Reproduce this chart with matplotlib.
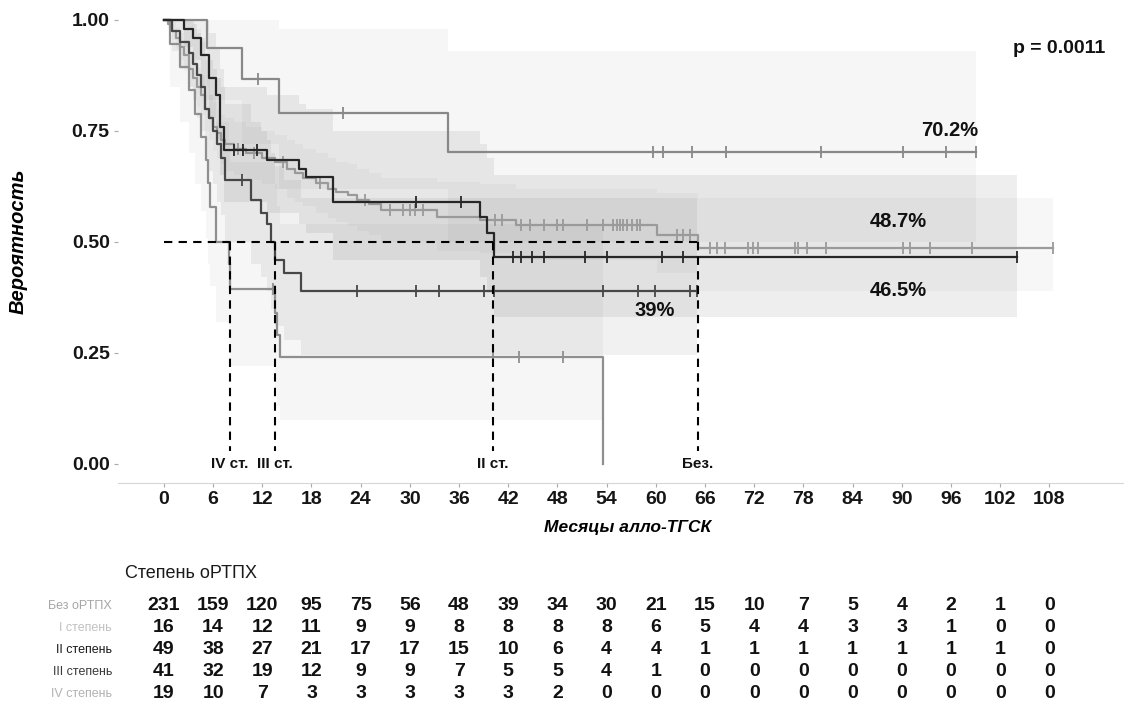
import numpy as np
import matplotlib
matplotlib.use('Agg')
import matplotlib.pyplot as plt
from matplotlib.transforms import blended_transform_factory

plt.rcParams['font.family'] = ['Liberation Sans', 'DejaVu Sans']

# Kaplan-Meier steps (months, probability)
bez_t = [0, 0.5, 1, 1.5, 2, 2.5, 3, 3.5, 4, 4.5, 5, 5.5, 6, 6.5, 7, 7.5, 8.5, 10, 12, 13.5,
         15, 16, 17, 18.5, 20, 21, 22.5, 23.5, 25, 26.5, 33.3, 38.6, 43, 60.1, 65.1]
bez_s = [1.0, 0.99, 0.975, 0.96, 0.94, 0.92, 0.89, 0.87, 0.85, 0.83, 0.80, 0.78, 0.76, 0.745, 0.73,
         0.72, 0.71, 0.70, 0.69, 0.68, 0.665, 0.655, 0.645, 0.633, 0.62, 0.613, 0.605, 0.595, 0.585,
         0.572, 0.556, 0.55, 0.538, 0.516, 0.487]
bez_lo = [1.0, 0.98, 0.955, 0.935, 0.91, 0.885, 0.85, 0.83, 0.805, 0.785, 0.75, 0.73, 0.705, 0.69,
          0.675, 0.66, 0.65, 0.64, 0.63, 0.62, 0.60, 0.59, 0.58, 0.565, 0.555, 0.545, 0.535, 0.525,
          0.515, 0.50, 0.48, 0.475, 0.46, 0.43, 0.39]
bez_hi = [1.0, 1.0, 0.995, 0.985, 0.97, 0.955, 0.93, 0.91, 0.895, 0.875, 0.85, 0.83, 0.815, 0.80,
          0.785, 0.78, 0.77, 0.76, 0.75, 0.74, 0.73, 0.72, 0.71, 0.70, 0.69, 0.68, 0.675, 0.665,
          0.655, 0.645, 0.635, 0.63, 0.62, 0.61, 0.60]
bez_end = 108.5
bez_cens = [9.0, 11.0, 14.5, 19.0, 24.5, 27.6, 29.2, 30.0, 30.6, 31.6, 40.4, 41.2, 43.5, 44.6, 46.3,
            48.0, 48.7, 51.6, 53.6, 54.8, 55.3, 55.6, 56.0, 56.5, 57.1, 57.7, 58.1, 62.6, 63.3,
            64.2, 66.6, 67.5, 68.4, 71.2, 71.8, 72.4, 77.0, 77.3, 78.4, 80.8, 90.1, 91.0, 93.4,
            98.5, 108.5]

I_t = [0, 5.3, 9.5, 14.0, 34.7]
I_s = [1.0, 0.938, 0.866, 0.79, 0.702]
I_lo = [1.0, 0.82, 0.72, 0.62, 0.50]
I_hi = [1.0, 1.0, 1.0, 0.98, 0.93]
I_end = 99.1
I_cens = [11.5, 21.9, 59.7, 60.9, 64.4, 68.6, 80.1, 90.2, 95.4, 99.1]

II_t = [0, 2.5, 3.5, 4.5, 5.5, 6.3, 6.8, 7.3, 12.6, 16.5, 17.3, 20.6, 38.6, 39.4, 40.2]
II_s = [1.0, 0.98, 0.96, 0.92, 0.87, 0.83, 0.76, 0.707, 0.685, 0.665, 0.647, 0.59, 0.556, 0.52, 0.465]
II_lo = [1.0, 0.94, 0.91, 0.85, 0.78, 0.73, 0.65, 0.59, 0.565, 0.54, 0.52, 0.46, 0.42, 0.385, 0.33]
II_hi = [1.0, 1.0, 1.0, 1.0, 0.97, 0.94, 0.89, 0.85, 0.83, 0.81, 0.80, 0.75, 0.72, 0.69, 0.65]
II_end = 104.1
II_cens = [8.5, 9.7, 11.4, 30.7, 36.2, 42.6, 43.5, 44.9, 46.3, 51.4, 54.1, 60.8, 63.3, 104.1]

III_t = [0, 1, 2, 3, 3.5, 4, 4.5, 5, 5.5, 6, 6.5, 7, 7.5, 10.6, 11.8, 12.6, 13.1, 13.6, 14.6, 16.7]
III_s = [1.0, 0.975, 0.95, 0.925, 0.90, 0.875, 0.85, 0.80, 0.78, 0.75, 0.72, 0.69, 0.64, 0.595,
         0.565, 0.54, 0.50, 0.46, 0.43, 0.39]
III_lo = [1.0, 0.93, 0.89, 0.85, 0.82, 0.78, 0.75, 0.69, 0.66, 0.63, 0.59, 0.56, 0.50, 0.45, 0.42,
          0.39, 0.35, 0.31, 0.28, 0.245]
III_hi = [1.0, 1.0, 1.0, 1.0, 0.99, 0.97, 0.96, 0.92, 0.91, 0.89, 0.87, 0.85, 0.81, 0.77, 0.75,
          0.73, 0.70, 0.67, 0.64, 0.60]
III_end = 65.0
III_cens = [9.5, 23.6, 30.7, 33.5, 39.0, 40.2, 53.6, 57.8, 59.9, 64.2, 65.0]

IV_t = [0, 0.8, 2, 3, 3.8, 4.5, 5.1, 5.4, 5.6, 6.4, 7.9, 8.0, 8.1, 13.6, 13.8, 14.2, 53.6]
IV_s = [1.0, 0.947, 0.895, 0.842, 0.789, 0.737, 0.684, 0.632, 0.579, 0.50, 0.45, 0.42, 0.395,
        0.34, 0.29, 0.24, 0.0]
IV_lo = [1.0, 0.85, 0.77, 0.70, 0.63, 0.57, 0.51, 0.45, 0.40, 0.32, 0.27, 0.24, 0.22, 0.17, 0.13,
         0.10, 0.0]
IV_hi = [1.0, 1.0, 1.0, 1.0, 0.98, 0.95, 0.91, 0.87, 0.83, 0.77, 0.73, 0.70, 0.68, 0.63, 0.58,
         0.54, 0.0]
IV_end = 53.6
IV_cens = [13.3, 40.1, 43.3, 48.7]

# number at risk table
risk_times = list(range(0, 109, 6))
risk_names = ['Без оРТПХ', 'I степень', 'II степень', 'III степень', 'IV степень']
risk_bez = [231, 159, 120, 95, 75, 56, 48, 39, 34, 30, 21, 15, 10, 7, 5, 4, 2, 1, 0]
risk_I = [16, 14, 12, 11, 9, 9, 8, 8, 8, 8, 6, 5, 4, 4, 3, 3, 1, 0, 0]
risk_II = [49, 38, 27, 21, 17, 17, 15, 10, 6, 4, 4, 1, 1, 1, 1, 1, 1, 1, 0]
risk_III = [41, 32, 19, 12, 9, 9, 7, 5, 5, 4, 1, 0, 0, 0, 0, 0, 0, 0, 0]
risk_IV = [19, 10, 7, 3, 3, 3, 3, 3, 2, 0, 0, 0, 0, 0, 0, 0, 0, 0, 0]

# median survival markers
med_times = [8.0, 13.5, 40.1, 65.1]
med_labels = ['IV ст.', 'III ст.', 'II ст.', 'Без.']

end_labels = ['70.2%', '48.7%', '46.5%', '39%']
end_pos = [(95.8, 0.752), (89.6, 0.545), (89.6, 0.39), (59.9, 0.345)]

groups = [
    (bez_t, bez_s, bez_lo, bez_hi, bez_end, bez_cens, '#9a9a9a'),
    (I_t, I_s, I_lo, I_hi, I_end, I_cens, '#888888'),
    (IV_t, IV_s, IV_lo, IV_hi, IV_end, IV_cens, '#8f8f8f'),
    (III_t, III_s, III_lo, III_hi, III_end, III_cens, '#474747'),
    (II_t, II_s, II_lo, II_hi, II_end, II_cens, '#262626'),
]
label_cols = ['#a6a6a6', '#c2c2c2', '#1a1a1a', '#3a3a3a', '#b2b2b2']

fig = plt.figure(figsize=(11.24, 7.13), dpi=100)
ax = fig.add_axes([118 / 1124, 1 - 483 / 713, 1 - 118 / 1124, 483 / 713])
ax.set_xlim(-5.6, 117.1)
ax.set_ylim(-0.043, 1.045)

for t, s, lo, hi, end, cens, col in groups:
    tx = list(t) + [end]
    ax.fill_between(tx, list(lo) + [lo[-1]], list(hi) + [hi[-1]], step='post',
                    color=col, alpha=0.075, lw=0)
for t, s, lo, hi, end, cens, col in groups:
    tx = list(t) + [end]
    sx = list(s) + [s[-1]]
    ax.step(tx, sx, where='post', color=col, lw=1.6)
    idx = np.searchsorted(t, cens, side='right') - 1
    cy = np.array(s)[idx]
    ax.plot(cens, cy, ls='none', marker='|', ms=8, mew=1.3, color=col)

# median lines
ax.plot([0, med_times[-1]], [0.5, 0.5], color='black', lw=1.5, dashes=(4, 3))
for m, lab in zip(med_times, med_labels):
    ax.plot([m, m], [0.5, 0.03], color='black', lw=1.5, dashes=(4, 3))
    ax.text(m, 0.0, lab, ha='center', va='center', fontsize=11, fontweight='bold', color='#111')

for lab, (x, y) in zip(end_labels, end_pos):
    ax.text(x, y, lab, ha='center', va='center', fontsize=14.5, fontweight='bold', color='#111')
ax.text(114.8, 0.935, 'p = 0.0011', ha='right', va='center', fontsize=14, fontweight='bold',
        color='#111')

ax.set_xticks(risk_times)
ax.set_yticks([0, 0.25, 0.5, 0.75, 1.0])
ax.set_yticklabels(['0.00', '0.25', '0.50', '0.75', '1.00'])
for sp in ['top', 'right', 'left']:
    ax.spines[sp].set_visible(False)
ax.spines['bottom'].set_color('#d6d6d6')
ax.spines['bottom'].set_linewidth(0.8)
ax.tick_params(axis='both', length=3, width=0.8, color='#aaaaaa', labelsize=14,
               labelcolor='#151515', pad=3)
for lb in ax.get_xticklabels() + ax.get_yticklabels():
    lb.set_fontweight('bold')
ax.set_xlabel('Месяцы алло-ТГСК', fontsize=12.5, fontweight='bold', style='italic')
ax.xaxis.set_label_coords((628 - 118) / (1124 - 118), -0.076)
ax.set_ylabel('Вероятность', fontsize=14.5, fontweight='bold', style='italic')
ax.yaxis.set_label_coords(-0.09, 0.5)

# risk table under the plot
tr = blended_transform_factory(ax.transData, fig.transFigure)
fig.text(125 / 1124, 1 - 573 / 713, 'Степень оРТПХ', ha='left', va='center', fontsize=13,
         color='#1a1a1a')
rows = [risk_bez, risk_I, risk_II, risk_III, risk_IV]
for i, (name, vals) in enumerate(zip(risk_names, rows)):
    y = 1 - (606 + 22 * i) / 713
    fig.text(112 / 1124, y, name, ha='right', va='center', fontsize=9, color=label_cols[i])
    for x, v in zip(risk_times, vals):
        ax.text(x, y, str(v), transform=tr, ha='center', va='center', fontsize=14,
                fontweight='bold', color='#111')

fig.savefig('out.png', dpi=100)
